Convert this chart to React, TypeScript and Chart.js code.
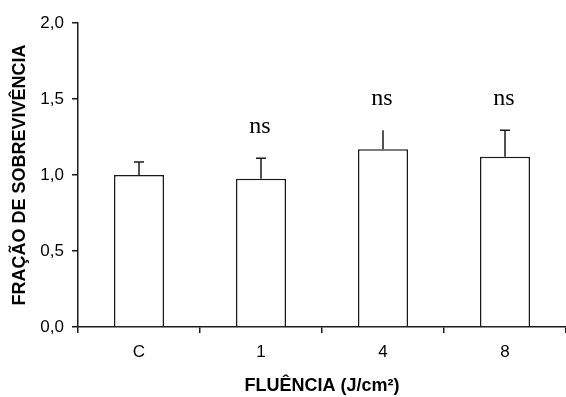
import { useEffect, useRef } from 'react';
import { Chart, registerables } from 'chart.js';

Chart.register(...registerables);

const categories = ['C', '1', '4', '8'];
const survival = [1.0, 0.975, 1.17, 1.12];
const errorUpper = [1.085, 1.11, 1.295, 1.295];
const significance = ['', 'ns', 'ns', 'ns'];
const yTickValues = [0, 0.5, 1.0, 1.5, 2.0];

const LINE = '#1a1a1a';
const SANS = '"Liberation Sans", Arial, sans-serif';
const SERIF = '"Liberation Serif", "Times New Roman", serif';
const CAPS = [true, true, false, true];

const errorPlugin = {
  id: 'errorBars',
  afterDatasetsDraw(chart: any) {
    const { ctx, scales } = chart;
    const meta = chart.getDatasetMeta(0);
    ctx.save();
    ctx.strokeStyle = LINE;
    ctx.lineWidth = 1.5;
    meta.data.forEach((bar: any, i: number) => {
      const x = bar.x;
      const yTop = scales.y.getPixelForValue(errorUpper[i]);
      const yBar = scales.y.getPixelForValue(survival[i]);
      ctx.beginPath();
      ctx.moveTo(x, yBar);
      ctx.lineTo(x, yTop);
      if (CAPS[i]) {
        ctx.moveTo(x - 5, yTop);
        ctx.lineTo(x + 5, yTop);
      }
      ctx.stroke();
      if (significance[i]) {
        ctx.fillStyle = '#000';
        ctx.font = `24px ${SERIF}`;
        ctx.textAlign = 'center';
        ctx.textBaseline = 'alphabetic';
        ctx.fillText(significance[i], x - 1, yTop - 25);
      }
    });
    ctx.restore();
  },
};

export default function App() {
  const ref = useRef<HTMLCanvasElement>(null);
  useEffect(() => {
    const chart = new Chart(ref.current!, {
      type: 'bar',
      data: {
        labels: categories,
        datasets: [
          {
            data: survival,
            backgroundColor: '#ffffff',
            borderColor: LINE,
            borderWidth: 1.5,
            borderSkipped: 'bottom',
            categoryPercentage: 1,
            barPercentage: 0.41,
          },
        ],
      },
      options: {
        responsive: false,
        animation: false,
        layout: { padding: { top: 23, right: 0, left: 0, bottom: 0 } },
        plugins: { legend: { display: false }, tooltip: { enabled: false } },
        scales: {
          x: {
            grid: { display: true, drawOnChartArea: false, drawTicks: true, tickLength: 6, color: LINE, lineWidth: 1.5, offset: true },
            border: { display: true, color: LINE, width: 1.5 },
            ticks: { color: '#000', font: { family: SANS, size: 17 }, padding: 9 },
            title: {
              display: true,
              text: 'FLUÊNCIA (J/cm²)',
              color: '#000',
              font: { family: SANS, size: 18, weight: 'bold' },
              padding: { top: 0, bottom: 0 },
            },
            afterFit: (s: any) => {
              s.height = 70;
            },
          },
          y: {
            min: 0,
            max: 2,
            afterBuildTicks: (s: any) => {
              s.ticks = yTickValues.map((v) => ({ value: v }));
            },
            grid: { display: true, drawOnChartArea: false, drawTicks: true, tickLength: 6, color: LINE, lineWidth: 1.5 },
            border: { display: true, color: LINE, width: 1.5 },
            ticks: {
              color: '#000',
              font: { family: SANS, size: 17 },
              padding: 8,
              callback: (v: any) => Number(v).toFixed(1).replace('.', ','),
            },
            title: {
              display: true,
              text: 'FRAÇÃO DE SOBREVIVÊNCIA',
              color: '#000',
              font: { family: SANS, size: 18, weight: 'bold' },
              padding: { top: 9, bottom: 0 },
            },
            afterFit: (s: any) => {
              s.width = 78;
            },
          },
        },
      },
      plugins: [errorPlugin],
    });
    return () => chart.destroy();
  }, []);
  return (
    <div style={{ position: 'fixed', left: 0, top: 0, width: 566, height: 397, background: '#fff' }}>
      <canvas ref={ref} width={566} height={397} />
    </div>
  );
}
